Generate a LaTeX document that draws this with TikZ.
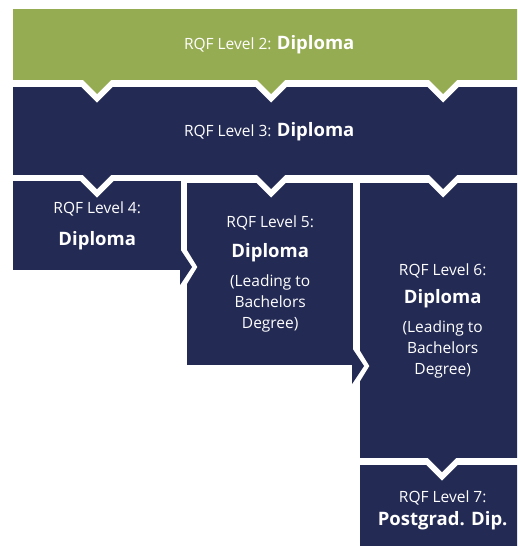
\documentclass[tikz,border=0pt]{standalone}
\usepackage{fontspec}
\setmainfont{Open Sans}
\usetikzlibrary{calc}

\definecolor{rqfgreen}{HTML}{96AC52}
\definecolor{rqfnavy}{HTML}{232A54}

\newcommand{\lvl}{\fontsize{15.5}{21}\selectfont}
\newcommand{\qual}[1]{{\fontsize{18.5}{21}\selectfont\bfseries #1}}

% sizes of the tabs (pt)
\def\tabw{14}\def\tabb{8.5}
\def\sideh{18}\def\sided{11}\def\sidehb{8.6}\def\sidedb{5.3}

% tab pointing down, #1 = point on the lower edge of a box
\newcommand{\tabdown}[2]{%
  \fill[white] ($(#1)+(-\tabw-\tabb,0)$) -- ($(#1)+(0,\tabw+\tabb)$) -- ($(#1)+(\tabw+\tabb,0)$) -- cycle;
  \fill[#2] ($(#1)+(-\tabw,-1)$) -- ($(#1)+(-\tabw,0)$) -- ($(#1)+(0,\tabw)$) -- ($(#1)+(\tabw,0)$) -- ($(#1)+(\tabw,-1)$) -- cycle;}
% tab pointing right, #1 = point on the right edge of a box
\newcommand{\tabright}[2]{%
  \fill[white] ($(#1)+(0,-\sideh-\sidehb)$) -- ($(#1)+(\sided+\sidedb,0)$) -- ($(#1)+(0,\sideh+\sidehb)$) -- cycle;
  \fill[#2] ($(#1)+(-1,-\sideh)$) -- ($(#1)+(\sided,0)$) -- ($(#1)+(-1,\sideh)$) -- cycle;}

\begin{document}
\begin{tikzpicture}[x=1pt,y=-1pt,
    box/.style={anchor=north west, inner sep=0pt, align=center, text=white, font=\lvl, fill=rqfnavy}]
    \useasboundingbox (0,0) rectangle (517,546);
    \clip (0,0) rectangle (517,546);

    % boxes
    \node[box, fill=rqfgreen, minimum width=512, minimum height=71] (l2) at (13,9) {RQF Level 2: \qual{Diploma}};
    \node[box, minimum width=512, minimum height=88] (l3) at (13,87) {RQF Level 3: \qual{Diploma}};
    \node[box, minimum width=168, minimum height=89] (l4) at (13,181) {RQF Level 4:\\[11pt]\qual{Diploma}};
    \node[box, minimum width=166, minimum height=182] (l5) at (187,183)
        {RQF Level 5:\\[9pt]\qual{Diploma}\\[8pt](Leading to\\Bachelors\\Degree)};
    \node[box, minimum width=165, minimum height=275] (l6) at (360,183)
        {RQF Level 6:\\[7pt]\qual{Diploma}\\[8pt](Leading to\\Bachelors\\Degree)};
    \node[box, minimum width=165, minimum height=90] (l7) at (360,465) {RQF Level 7:\\[2pt]\qual{Postgrad. Dip.}};

    % tabs
    \foreach \x in {97,271,443} {
        \tabdown{\x,80}{rqfgreen}
        \tabdown{\x,175}{rqfnavy}
    }
    \tabright{181,267}{rqfnavy}
    \tabright{353,366}{rqfnavy}
    \tabdown{442,458}{rqfnavy}
\end{tikzpicture}
\end{document}
